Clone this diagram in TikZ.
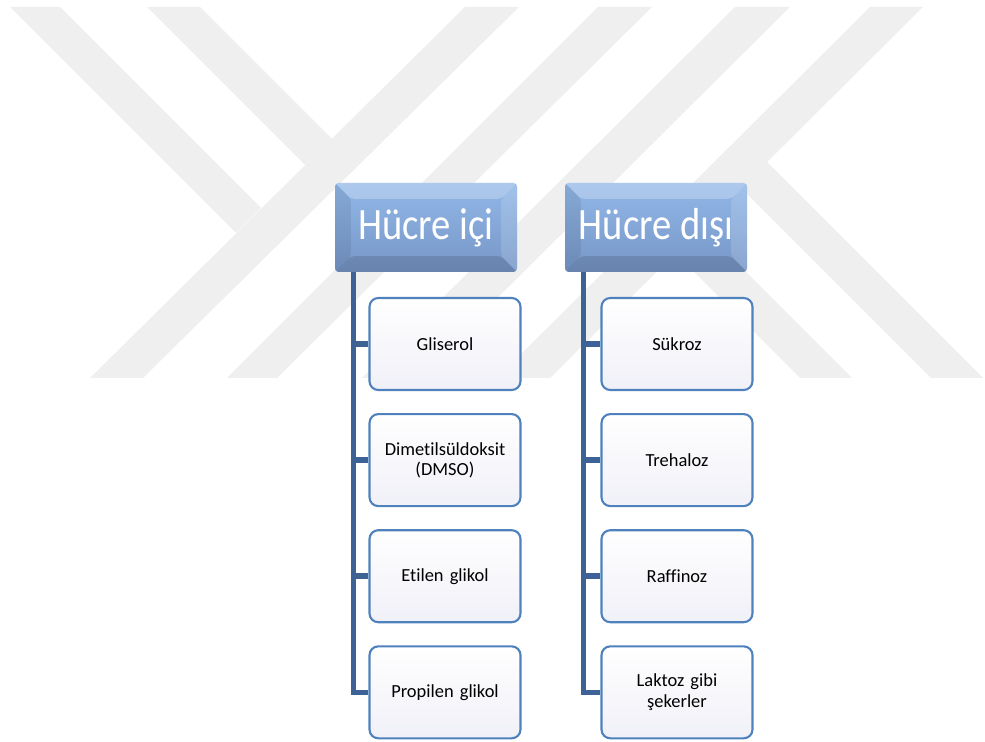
\documentclass[tikz,border=0pt]{standalone}
\usepackage{fontspec}
\setmainfont[FakeStretch=0.86, Ligatures=NoCommon]{Carlito}
\newfontfamily\itemfont[Ligatures=NoCommon]{Carlito}
\usetikzlibrary{positioning, calc, shadings}

\definecolor{markgray}{RGB}{239,239,239}
\definecolor{trunkblue}{RGB}{60,98,150}
\definecolor{edgeblue}{RGB}{79,129,189}
\definecolor{headtop}{RGB}{146,184,232}
\definecolor{headbot}{RGB}{118,150,199}
\definecolor{itembot}{RGB}{240,240,248}

\tikzset{
  head/.style={rectangle, rounded corners=2pt, inner sep=0pt,
    minimum width=36.4mm, minimum height=17.8mm,
    top color=headtop, bottom color=headbot, text=white,
    font=\fontsize{25.5}{28}\selectfont,
    path picture={
      % bevel: light top and right, darker bottom and left
      \fill[white, opacity=.25] (path picture bounding box.north west) -- (path picture bounding box.north east)
        -- ([shift={(-9pt,-9pt)}]path picture bounding box.north east) -- ([shift={(9pt,-9pt)}]path picture bounding box.north west) -- cycle;
      \fill[white, opacity=.15] (path picture bounding box.north east) -- (path picture bounding box.south east)
        -- ([shift={(-9pt,9pt)}]path picture bounding box.south east) -- ([shift={(-9pt,-9pt)}]path picture bounding box.north east) -- cycle;
      \fill[black, opacity=.12] (path picture bounding box.south west) -- (path picture bounding box.south east)
        -- ([shift={(-9pt,9pt)}]path picture bounding box.south east) -- ([shift={(9pt,9pt)}]path picture bounding box.south west) -- cycle;
      \fill[black, opacity=.08] (path picture bounding box.north west) -- (path picture bounding box.south west)
        -- ([shift={(9pt,9pt)}]path picture bounding box.south west) -- ([shift={(9pt,-9pt)}]path picture bounding box.north west) -- cycle;
    }},
  item/.style={rectangle, draw=edgeblue, line width=1.2pt, rounded corners=5pt,
    top color=white, bottom color=itembot,
    minimum width=30.2mm, minimum height=18.4mm, text width=28mm, inner sep=2pt,
    align=center, font=\itemfont\fontsize{10.5}{11.6}\selectfont},
  trunk/.style={draw=trunkblue, line width=3.2pt},
}

\begin{document}
\begin{tikzpicture}[x=0.2mm, y=-0.2mm]
  \useasboundingbox (0,0) rectangle (985,742);

  % watermark: two bands falling to the right
  \fill[markgray] (10,7) -- (60,7) -- (261,208) -- (236,233) -- cycle;
  \fill[markgray] (147,7) -- (200,7) -- (332,139) -- (305,165) -- cycle;
  % watermark: four long rising bands
  \fill[markgray] (465,7) -- (519,7) -- (143,378) -- (90,378) -- cycle;
  \fill[markgray] (598,7) -- (652,7) -- (277,378) -- (227,378) -- cycle;
  \fill[markgray] (735,7) -- (790,7) -- (417,378) -- (362,378) -- cycle;
  \fill[markgray] (870,7) -- (923,7) -- (550,378) -- (497,378) -- cycle;
  % watermark: the two legs on the right
  \fill[markgray] (701,227) -- (852,378) -- (800,378) -- (675,253) -- cycle;
  \fill[markgray] (767,162) -- (983,378) -- (931,378) -- (741,188) -- cycle;

  % headers
  \node[head] (inhead) at (426,227.5) {Hücre içi};
  \node[head] (outhead) at (656,227.5) {Hücre dışı};

  % left column
  \node[item] (gli) at (445,344) {Gliserol};
  \node[item, below=4.4mm of gli] (dmso) {Dimetilsüldoksit\\(DMSO)};
  \node[item, below=4.4mm of dmso] (eti) {Etilen glikol};
  \node[item, below=4.4mm of eti] (pro) {Propilen glikol};

  % right column
  \node[item] (suk) at (677,344) {Sükroz};
  \node[item, below=4.4mm of suk] (tre) {Trehaloz};
  \node[item, below=4.4mm of tre] (raf) {Raffinoz};
  \node[item, below=4.4mm of raf] (lak) {Laktoz gibi\\şekerler};

  % trunks
  \coordinate (intrunk) at ($(inhead.south west)+(19,0)$);
  \coordinate (outtrunk) at ($(outhead.south west)+(19,0)$);
  \draw[trunk] (intrunk) |- (pro.west);
  \draw[trunk] (outtrunk) |- (lak.west);
  \foreach \n in {gli,dmso,eti}
    \draw[trunk] (intrunk |- \n.west) -- (\n.west);
  \foreach \n in {suk,tre,raf}
    \draw[trunk] (outtrunk |- \n.west) -- (\n.west);
\end{tikzpicture}
\end{document}
